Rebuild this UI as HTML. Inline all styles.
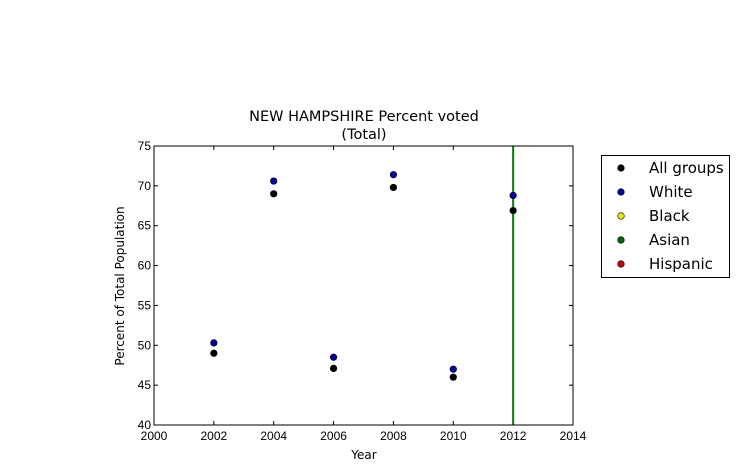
<!DOCTYPE html>
<html><head><meta charset="utf-8"><style>
body{margin:0;background:#fff;}
svg text{font-family:"Liberation Sans",sans-serif;}
svg text.dv{font-family:"DejaVu Sans","Liberation Sans",sans-serif;}
</style></head><body>
<svg width="751" height="470" xmlns="http://www.w3.org/2000/svg">
<g id="plot"></g>
</svg>
<script>
const years=[2002,2004,2006,2008,2010,2012];
const allGroups=[49.0,69.0,47.1,69.8,46.0,66.9];
const white=[50.3,70.6,48.5,71.4,47.0,68.8];
const xTicks=[2000,2002,2004,2006,2008,2010,2012,2014];
const yTicks=[40,45,50,55,60,65,70,75];
const legendLabels=["All groups","White","Black","Asian","Hispanic"];
const legendColors=["#000000","#0000aa","#e8e800","#006400","#cc0000"];
const vLineYear=2012;

const L=154,R=573,T=146,B=425;
const sx=v=>L+(v-2000)/(14)*(R-L);
const sy=v=>B-(v-40)/35*(B-T);
const NS="http://www.w3.org/2000/svg";
const g=document.getElementById('plot');
function mk(tag,attrs,parent){const e=document.createElementNS(NS,tag);for(const k in attrs)e.setAttribute(k,attrs[k]);(parent||g).appendChild(e);return e;}

let t=mk('text',{x:364,y:121,'text-anchor':'middle','font-size':14.5,class:'dv'});
t.textContent='NEW HAMPSHIRE Percent voted';


t=mk('text',{x:364,y:139,'text-anchor':'middle','font-size':14.5,class:'dv'});
t.textContent='(Total)';



xTicks.forEach(v=>{
  const x=sx(v);
  mk('line',{x1:x,x2:x,y1:B,y2:B-4,stroke:'#000'});
  mk('line',{x1:x,x2:x,y1:T,y2:T+4,stroke:'#000'});
  const tx=mk('text',{x:x,y:B+15,'text-anchor':'middle','font-size':12});
  tx.textContent=v;
  
  
});
yTicks.forEach(v=>{
  const y=sy(v);
  mk('line',{x1:L,x2:L+4,y1:y,y2:y,stroke:'#000'});
  mk('line',{x1:R,x2:R-4,y1:y,y2:y,stroke:'#000'});
  const ty=mk('text',{x:L-3,y:y+4,'text-anchor':'end','font-size':12});
  ty.textContent=v;
  
  
});
t=mk('text',{x:364,y:459,'text-anchor':'middle','font-size':12,class:'dv'});
t.textContent='Year';


t=mk('text',{x:0,y:0,'text-anchor':'middle','font-size':12,class:'dv',transform:'translate(124,286) rotate(-90)'});
t.textContent='Percent of Total Population';



const vl=mk('line',{x1:sx(vLineYear),x2:sx(vLineYear),y1:T,y2:B,stroke:'#007f00','stroke-width':2});



years.forEach((yr,i)=>{
  const c=mk('circle',{cx:sx(yr),cy:sy(white[i]),r:3.3,fill:legendColors[1],stroke:'#000','stroke-width':0.6});
  
  
  const d=mk('circle',{cx:sx(yr),cy:sy(allGroups[i]),r:3.3,fill:legendColors[0],stroke:'#000','stroke-width':0.6});
  
  
});

const fr=mk('rect',{x:L,y:T,width:R-L,height:B-T,fill:'none',stroke:'#000','stroke-width':1});



const lg=mk('rect',{x:601.5,y:155.5,width:128,height:122,fill:'#fff',stroke:'#000'});


legendLabels.forEach((lab,i)=>{
  const y=168+i*24;
  const m=mk('circle',{cx:621,cy:y,r:3.3,fill:legendColors[i],stroke:'#000','stroke-width':0.6});
  
  
  const tx=mk('text',{x:649,y:y+5,'font-size':15,class:'dv'});
  tx.textContent=lab;
  
  
});
</script>
</body></html>
